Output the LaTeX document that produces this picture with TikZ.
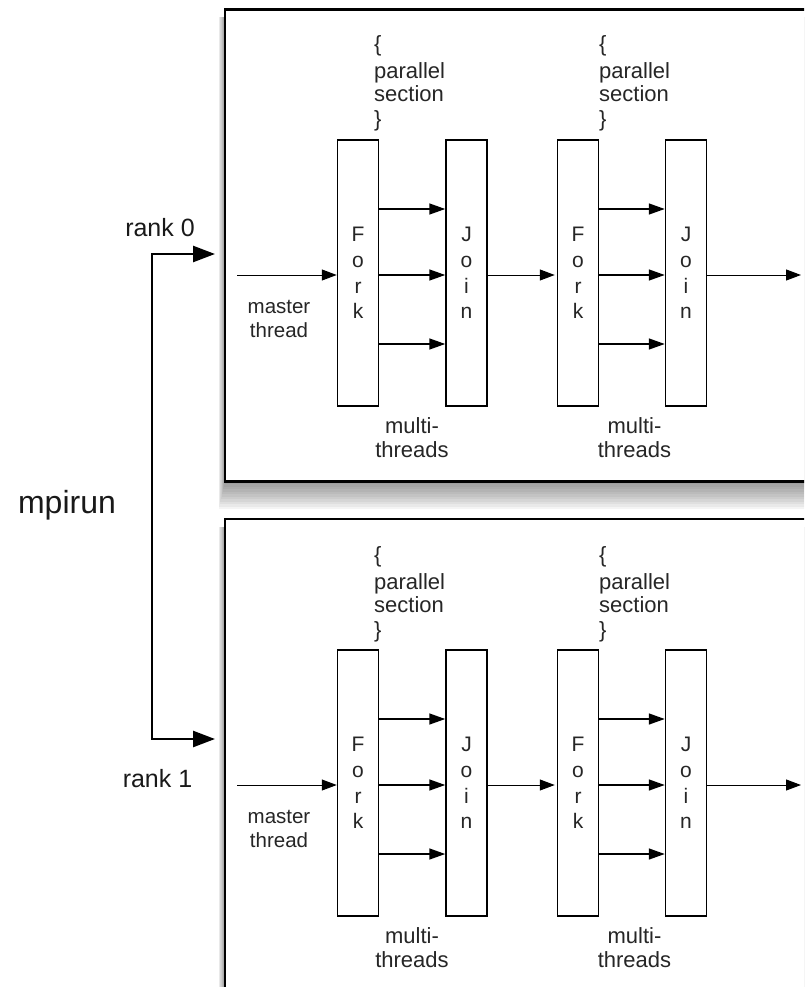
\documentclass[tikz,border=0pt]{standalone}
\usepackage{fontspec}
\setmainfont{Liberation Sans}
\usetikzlibrary{arrows.meta}
\begin{document}
\begin{tikzpicture}[x=1pt,y=-1pt,
  panel/.style={draw=black, line width=2.2pt, fill=white, inner sep=0pt,
    minimum width=595pt, minimum height=472pt},
  stagebox/.style={draw=black, line width=1.5pt, fill=white, inner sep=0pt,
    minimum width=41pt, minimum height=266pt, align=center, text=black!85,
    font=\fontsize{21}{25.7}\selectfont},
  thr/.style={line width=1.5pt, -{Triangle[length=16pt,width=11pt]}},
  mst/.style={line width=1pt, -{Triangle[length=15pt,width=11pt]}},
  rk/.style={line width=2.5pt, {Triangle[length=22pt,width=16pt]}-{Triangle[length=22pt,width=16pt]}},
  lbl/.style={inner sep=0pt, text=black!85, font=\fontsize{22}{24}\selectfont},
  mlbl/.style={inner sep=0pt, text=black!85, font=\fontsize{20.5}{24}\selectfont},
  big/.style={inner sep=0pt, text=black!90, font=\fontsize{25}{30}\selectfont},
]
\useasboundingbox (0,0) rectangle (804,987);
\clip (0,0) rectangle (804,987);

% soft drop shadows under the two process panels
\foreach \k in {1,...,12} {
  \fill[black, opacity=0.045] ({218+0.6*\k}, 17.5) rectangle (830, {511.5-2.5*\k});
  \fill[black, opacity=0.045] ({218+0.6*\k}, 527) rectangle (830, 1010);
}

% the two MPI process panels
\node[panel] (p0) at (522.5,245.5) {};
\node[panel] (p1) at (522.5,755) {};

% fork / join stages inside each panel
\foreach \i/\dy in {0/0, 1/510} {
  \node[stagebox] (fa\i) at (358,273+\dy) {F\\o\\r\\k};
  \node[stagebox] (ja\i) at (466.5,273+\dy) {J\\o\\i\\n};
  \node[stagebox] (fb\i) at (578,273+\dy) {F\\o\\r\\k};
  \node[stagebox] (jb\i) at (686,273+\dy) {J\\o\\i\\n};

  % worker threads between fork and join
  \foreach \s in {64,-2,-71} {
    \draw[thr] ([yshift=\s pt]fa\i.east) -- ([yshift=\s pt]ja\i.west);
    \draw[thr] ([yshift=\s pt]fb\i.east) -- ([yshift=\s pt]jb\i.west);
  }

  % master thread path
  \coordinate (ms\i) at (237,275+\dy);
  \coordinate (out\i) at (801,275+\dy);
  \draw[mst] (ms\i) -- ([yshift=-2pt]fa\i.west);
  \draw[mst, shorten >=2pt] ([yshift=-2pt]ja\i.east) -- ([yshift=-2pt]fb\i.west);
  \draw[mst] ([yshift=-2pt]jb\i.east) -- (out\i);

  \node[mlbl, anchor=base] (mt\i) at (279,313+\dy) {master};
  \node[mlbl, anchor=base] (mh\i) at (279,337+\dy) {thread};

  % parallel section markers
  \foreach \x/\n in {374/a, 599/b} {
    \node[lbl, anchor=base west] (ob\n\i) at (\x,52+\dy) {\{};
    \node[lbl, anchor=base west] (pa\n\i) at (\x,79+\dy) {parallel};
    \node[lbl, anchor=base west] (se\n\i) at (\x,102+\dy) {section};
    \node[lbl, anchor=base west] (cb\n\i) at (\x,127+\dy) {\}};
  }

  % multi-thread captions
  \foreach \x/\n in {412/a, 634.5/b} {
    \node[lbl, anchor=base] (mu\n\i) at (\x,433+\dy) {multi-};
    \node[lbl, anchor=base] (th\n\i) at (\x,457+\dy) {threads};
  }
}

% mpirun launching two ranks
\coordinate (tip0) at (215,254);
\coordinate (bend0) at (152,254);
\coordinate (bend1) at (152,739);
\coordinate (tip1) at (215,739);
\draw[rk] (tip0) -- (bend0) -- (bend1) -- (tip1);

\node[big, anchor=base] (rank0) at (160,236) {rank 0};
\node[big, anchor=base] (rank1) at (157.5,787) {rank 1};
\node[inner sep=0pt, text=black!90, font=\fontsize{32}{36}\selectfont, anchor=base] (mpirun) at (67,513) {mpirun};
\end{tikzpicture}
\end{document}
